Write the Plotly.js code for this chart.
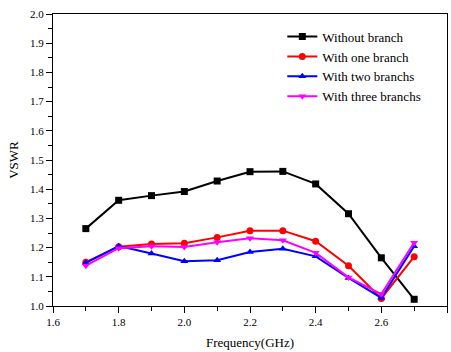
<!DOCTYPE html>
<html><head><meta charset="utf-8">
<script src="https://cdn.plot.ly/plotly-3.0.1.min.js"></script>
<style>html,body{margin:0;padding:0;background:#fff}</style>
</head><body><div id="chart" style="width:451px;height:352px"></div>
<script>
const freq = [1.7,1.8,1.9,2.0,2.1,2.2,2.3,2.4,2.5,2.6,2.7];
const withoutBranch = [1.265,1.362,1.378,1.392,1.428,1.460,1.461,1.418,1.316,1.165,1.023];
const oneBranch    = [1.150,1.203,1.212,1.215,1.235,1.258,1.258,1.222,1.138,1.026,1.169];
const twoBranchs   = [1.148,1.205,1.180,1.153,1.157,1.185,1.196,1.170,1.096,1.028,1.205];
const threeBranchs = [1.138,1.198,1.205,1.202,1.218,1.232,1.225,1.182,1.098,1.041,1.217];
const names = ["Without branch","With one branch","With two branchs","With three branchs"];
const colors = ["#000000","#ff0000","#0000ff","#ff00ff"];
const symbols = ["square","circle","triangle-up","triangle-down"];
const series = [withoutBranch, oneBranch, twoBranchs, threeBranchs];
const traces = series.map((ys,i)=>({
  x: freq, y: ys, name: names[i], type:'scatter', mode:'lines+markers',
  line:{color:colors[i], width:2},
  marker:{symbol:symbols[i], color:colors[i], size:7}
}));
const fam = 'Liberation Serif, Times New Roman, serif';
const axisCommon = {
  showgrid:false, zeroline:false, showline:true, linecolor:'#000', linewidth:1, mirror:true,
  ticks:'outside', ticklen:6, tickcolor:'#000', tickwidth:1,
  tickfont:{family:fam, size:11, color:'#000'}
};
const layout = {
  width:451, height:352,
  margin:{l:53, r:4, t:14, b:46},
  paper_bgcolor:'#fff', plot_bgcolor:'#fff',
  font:{family:fam, color:'#000'},
  showlegend:true,
  legend:{x:0.582, y:0.974, xanchor:'left', yanchor:'top', bgcolor:'rgba(0,0,0,0)',
    font:{family:fam, size:13, color:'#000'},
    tracegroupgap:0, itemwidth:30},
  xaxis: Object.assign({}, axisCommon, {
    range:[1.6,2.8], tick0:1.6, dtick:0.2, tickformat:'.1f',
    minor:{dtick:0.1, ticks:'outside', ticklen:4, tickcolor:'#000'},
    title:{text:'Frequency(GHz)', font:{family:fam, size:13, color:'#000'}, standoff:10}
  }),
  yaxis: Object.assign({}, axisCommon, {
    range:[1.0,2.0], tick0:1.0, dtick:0.1, tickformat:'.1f',
    minor:{dtick:0.05, ticks:'outside', ticklen:4, tickcolor:'#000'},
    title:{text:'VSWR', font:{family:fam, size:13, color:'#000'}, standoff:8}
  })
};
Plotly.newPlot('chart', traces, layout, {displayModeBar:false, staticPlot:true});
</script></body></html>
